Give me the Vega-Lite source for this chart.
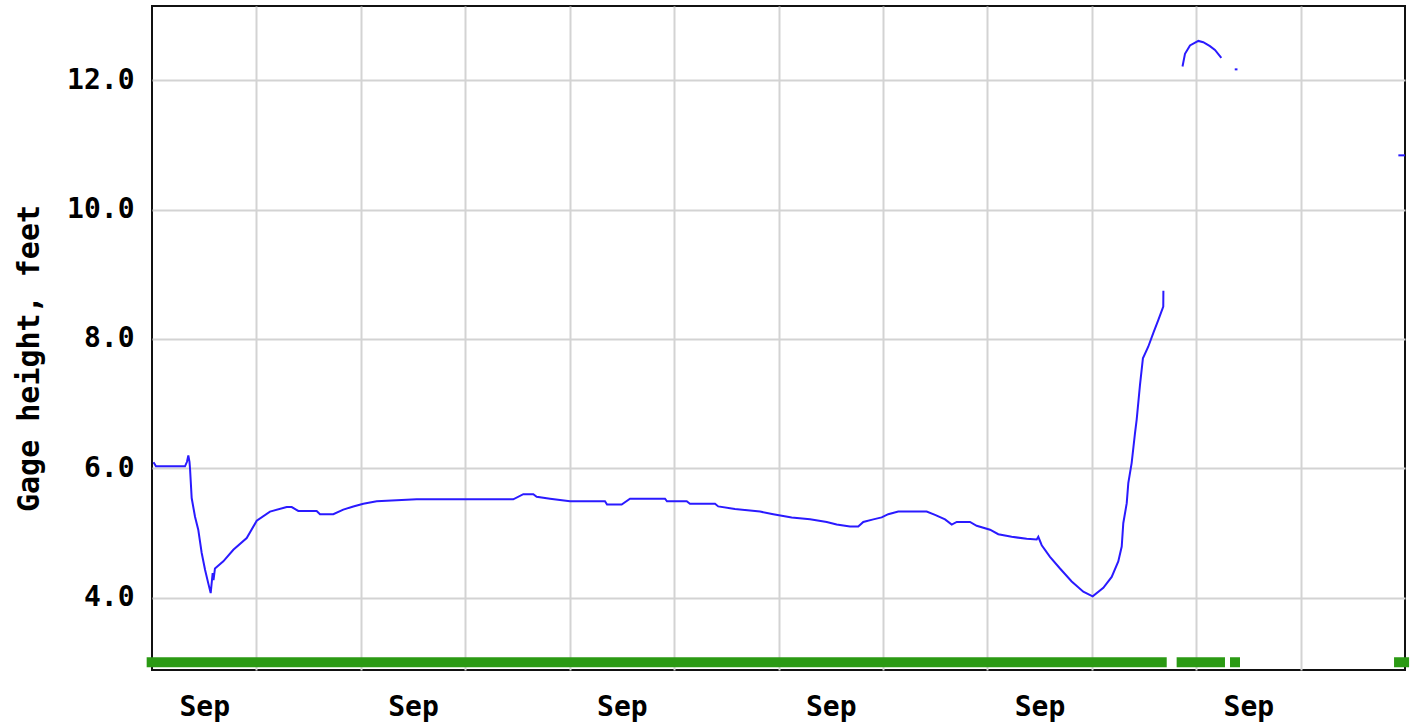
{
  "$schema": "https://vega.github.io/schema/vega-lite/v6.json",
  "width": 1253,
  "height": 664,
  "autosize": {"type": "none"},
  "padding": {"left": 152, "top": 6, "right": 9, "bottom": 53},
  "background": "white",
  "config": {"view": {"stroke": "#111111", "strokeWidth": 2}, "font": "DejaVu Sans Mono"},
  "datasets": {
    "coverage": [
      {"day": -0.051, "day_end": 9.718},
      {"day": 9.813, "day_end": 10.276},
      {"day": 10.324, "day_end": 10.42},
      {"day": 11.895, "day_end": 12.039}
    ],
    "gage": [
      {"segment": "a", "day": 0.019, "gage_ft": 6.08},
      {"segment": "a", "day": 0.038, "gage_ft": 6.03},
      {"segment": "a", "day": 0.316, "gage_ft": 6.03},
      {"segment": "a", "day": 0.335, "gage_ft": 6.1},
      {"segment": "a", "day": 0.348, "gage_ft": 6.2},
      {"segment": "a", "day": 0.359, "gage_ft": 6.1},
      {"segment": "a", "day": 0.364, "gage_ft": 6.0},
      {"segment": "a", "day": 0.38, "gage_ft": 5.54},
      {"segment": "a", "day": 0.412, "gage_ft": 5.25},
      {"segment": "a", "day": 0.443, "gage_ft": 5.05},
      {"segment": "a", "day": 0.476, "gage_ft": 4.69},
      {"segment": "a", "day": 0.508, "gage_ft": 4.43},
      {"segment": "a", "day": 0.539, "gage_ft": 4.22},
      {"segment": "a", "day": 0.562, "gage_ft": 4.07},
      {"segment": "a", "day": 0.581, "gage_ft": 4.38},
      {"segment": "a", "day": 0.589, "gage_ft": 4.27},
      {"segment": "a", "day": 0.603, "gage_ft": 4.45},
      {"segment": "a", "day": 0.683, "gage_ft": 4.56},
      {"segment": "a", "day": 0.779, "gage_ft": 4.74},
      {"segment": "a", "day": 0.907, "gage_ft": 4.92},
      {"segment": "a", "day": 1.003, "gage_ft": 5.19},
      {"segment": "a", "day": 1.13, "gage_ft": 5.33},
      {"segment": "a", "day": 1.29, "gage_ft": 5.4},
      {"segment": "a", "day": 1.338, "gage_ft": 5.4},
      {"segment": "a", "day": 1.401, "gage_ft": 5.34},
      {"segment": "a", "day": 1.577, "gage_ft": 5.34},
      {"segment": "a", "day": 1.609, "gage_ft": 5.29},
      {"segment": "a", "day": 1.736, "gage_ft": 5.29},
      {"segment": "a", "day": 1.832, "gage_ft": 5.36},
      {"segment": "a", "day": 1.928, "gage_ft": 5.41},
      {"segment": "a", "day": 2.024, "gage_ft": 5.45},
      {"segment": "a", "day": 2.152, "gage_ft": 5.49},
      {"segment": "a", "day": 2.535, "gage_ft": 5.52},
      {"segment": "a", "day": 3.46, "gage_ft": 5.52},
      {"segment": "a", "day": 3.556, "gage_ft": 5.6},
      {"segment": "a", "day": 3.652, "gage_ft": 5.6},
      {"segment": "a", "day": 3.684, "gage_ft": 5.56},
      {"segment": "a", "day": 3.812, "gage_ft": 5.53},
      {"segment": "a", "day": 4.003, "gage_ft": 5.49},
      {"segment": "a", "day": 4.338, "gage_ft": 5.49},
      {"segment": "a", "day": 4.358, "gage_ft": 5.44},
      {"segment": "a", "day": 4.498, "gage_ft": 5.44},
      {"segment": "a", "day": 4.578, "gage_ft": 5.53},
      {"segment": "a", "day": 4.913, "gage_ft": 5.53},
      {"segment": "a", "day": 4.932, "gage_ft": 5.49},
      {"segment": "a", "day": 5.121, "gage_ft": 5.49},
      {"segment": "a", "day": 5.152, "gage_ft": 5.45},
      {"segment": "a", "day": 5.392, "gage_ft": 5.45},
      {"segment": "a", "day": 5.423, "gage_ft": 5.41},
      {"segment": "a", "day": 5.583, "gage_ft": 5.37},
      {"segment": "a", "day": 5.823, "gage_ft": 5.33},
      {"segment": "a", "day": 5.95, "gage_ft": 5.29},
      {"segment": "a", "day": 6.126, "gage_ft": 5.24},
      {"segment": "a", "day": 6.302, "gage_ft": 5.21},
      {"segment": "a", "day": 6.462, "gage_ft": 5.17},
      {"segment": "a", "day": 6.557, "gage_ft": 5.13},
      {"segment": "a", "day": 6.685, "gage_ft": 5.1},
      {"segment": "a", "day": 6.764, "gage_ft": 5.1},
      {"segment": "a", "day": 6.812, "gage_ft": 5.17},
      {"segment": "a", "day": 6.908, "gage_ft": 5.21},
      {"segment": "a", "day": 6.988, "gage_ft": 5.24},
      {"segment": "a", "day": 7.051, "gage_ft": 5.29},
      {"segment": "a", "day": 7.147, "gage_ft": 5.33},
      {"segment": "a", "day": 7.419, "gage_ft": 5.33},
      {"segment": "a", "day": 7.499, "gage_ft": 5.28},
      {"segment": "a", "day": 7.595, "gage_ft": 5.21},
      {"segment": "a", "day": 7.659, "gage_ft": 5.13},
      {"segment": "a", "day": 7.707, "gage_ft": 5.17},
      {"segment": "a", "day": 7.834, "gage_ft": 5.17},
      {"segment": "a", "day": 7.898, "gage_ft": 5.11},
      {"segment": "a", "day": 8.026, "gage_ft": 5.05},
      {"segment": "a", "day": 8.105, "gage_ft": 4.98},
      {"segment": "a", "day": 8.233, "gage_ft": 4.94},
      {"segment": "a", "day": 8.377, "gage_ft": 4.91},
      {"segment": "a", "day": 8.473, "gage_ft": 4.9},
      {"segment": "a", "day": 8.488, "gage_ft": 4.94},
      {"segment": "a", "day": 8.521, "gage_ft": 4.81},
      {"segment": "a", "day": 8.6, "gage_ft": 4.63},
      {"segment": "a", "day": 8.696, "gage_ft": 4.45},
      {"segment": "a", "day": 8.808, "gage_ft": 4.25},
      {"segment": "a", "day": 8.919, "gage_ft": 4.09},
      {"segment": "a", "day": 9.009, "gage_ft": 4.02},
      {"segment": "a", "day": 9.111, "gage_ft": 4.15},
      {"segment": "a", "day": 9.191, "gage_ft": 4.32},
      {"segment": "a", "day": 9.254, "gage_ft": 4.56},
      {"segment": "a", "day": 9.287, "gage_ft": 4.79},
      {"segment": "a", "day": 9.302, "gage_ft": 5.15},
      {"segment": "a", "day": 9.335, "gage_ft": 5.46},
      {"segment": "a", "day": 9.35, "gage_ft": 5.77},
      {"segment": "a", "day": 9.382, "gage_ft": 6.08},
      {"segment": "a", "day": 9.414, "gage_ft": 6.54},
      {"segment": "a", "day": 9.43, "gage_ft": 6.75},
      {"segment": "a", "day": 9.462, "gage_ft": 7.29},
      {"segment": "a", "day": 9.49, "gage_ft": 7.7},
      {"segment": "a", "day": 9.541, "gage_ft": 7.88},
      {"segment": "a", "day": 9.589, "gage_ft": 8.09},
      {"segment": "a", "day": 9.637, "gage_ft": 8.29},
      {"segment": "a", "day": 9.685, "gage_ft": 8.5},
      {"segment": "a", "day": 9.686, "gage_ft": 8.73},
      {"segment": "b", "day": 9.871, "gage_ft": 12.23},
      {"segment": "b", "day": 9.893, "gage_ft": 12.41},
      {"segment": "b", "day": 9.941, "gage_ft": 12.54},
      {"segment": "b", "day": 10.021, "gage_ft": 12.61},
      {"segment": "b", "day": 10.068, "gage_ft": 12.59},
      {"segment": "b", "day": 10.132, "gage_ft": 12.53},
      {"segment": "b", "day": 10.18, "gage_ft": 12.47},
      {"segment": "b", "day": 10.235, "gage_ft": 12.36},
      {"segment": "c", "day": 10.379, "gage_ft": 12.17},
      {"segment": "c", "day": 10.386, "gage_ft": 12.17},
      {"segment": "d", "day": 11.946, "gage_ft": 10.84},
      {"segment": "d", "day": 11.99, "gage_ft": 10.84}
    ]
  },
  "layer": [
    {
      "data": {"name": "coverage"},
      "mark": {"type": "rule", "color": "#2b9a14", "strokeWidth": 10},
      "encoding": {
        "x": {"field": "day", "type": "quantitative", "title": null},
        "x2": {"field": "day_end"},
        "y": {"datum": 3.0, "type": "quantitative", "title": "Gage height, feet"}
      }
    },
    {
      "data": {"name": "gage"},
      "mark": {"type": "line", "color": "#2a1aff", "strokeWidth": 2, "strokeCap": "square", "clip": true},
      "encoding": {
        "x": {
          "field": "day",
          "type": "quantitative",
          "title": null,
          "scale": {"domain": [0, 12], "nice": false, "zero": false},
          "axis": {
            "title": null,
            "values": [0.5, 1, 2, 2.5, 3, 4, 4.5, 5, 6, 6.5, 7, 8, 8.5, 9, 10, 10.5, 11],
            "labelExpr": "datum.value % 1 != 0 ? 'Sep' : ''",
            "grid": true,
            "gridColor": "#d3d3d3",
            "gridWidth": 2,
            "gridOpacity": {"condition": {"test": "datum.value % 1 != 0", "value": 0}, "value": 1},
            "domain": false,
            "ticks": false,
            "tickSize": 0,
            "labelFont": "DejaVu Sans Mono",
            "labelFontWeight": "bold",
            "labelFontSize": 28,
            "labelColor": "#000000",
            "labelBaseline": "alphabetic",
            "labelAlign": "center",
            "labelPadding": 45,
            "labelOverlap": false,
            "labelFlush": false
          }
        },
        "y": {
          "field": "gage_ft",
          "type": "quantitative",
          "title": "Gage height, feet",
          "scale": {"domain": [2.88, 13.15], "nice": false, "zero": false},
          "axis": {
            "title": "Gage height, feet",
            "values": [4, 6, 8, 10, 12],
            "format": ".1f",
            "grid": true,
            "gridColor": "#d3d3d3",
            "gridWidth": 2,
            "domain": false,
            "ticks": false,
            "tickSize": 0,
            "labelFont": "DejaVu Sans Mono",
            "labelFontWeight": "bold",
            "labelFontSize": 28,
            "labelColor": "#000000",
            "labelPadding": 18,
            "labelBaseline": "middle",
            "labelOverlap": false,
            "labelFlush": false,
            "titleFont": "DejaVu Sans Mono",
            "titleFontSize": 30,
            "titleFontWeight": "bold",
            "titleColor": "#000000",
            "titleAngle": -90,
            "titleAlign": "center",
            "titleBaseline": "alphabetic",
            "titleX": -114,
            "titleY": 352
          }
        },
        "detail": {"field": "segment", "type": "nominal"}
      }
    }
  ]
}
